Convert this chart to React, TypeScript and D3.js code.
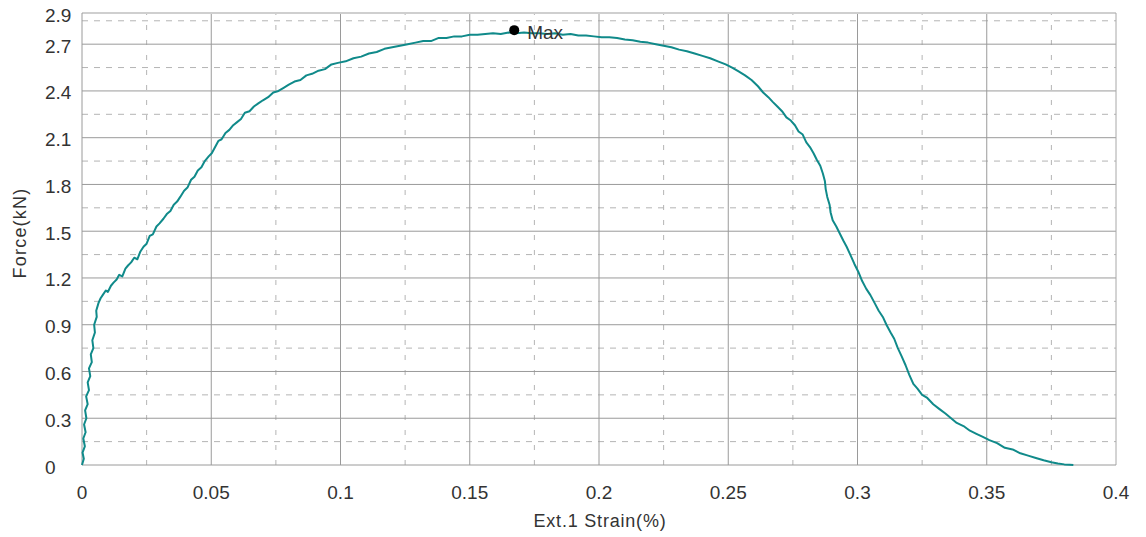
import React from 'react'
import * as d3 from 'd3'

// strain (%) and force (kN)
const strain = [
	0, 0.0007, 0.0002, 0.0011, 0.0005, 0.0014, 0.0008, 0.0017, 0.0012, 0.0022, 0.0016, 0.0027,
	0.0022, 0.0032, 0.0027, 0.0038, 0.0034, 0.0044, 0.004, 0.005, 0.0047, 0.0057, 0.0055, 0.0064,
	0.0072, 0.008, 0.0092, 0.01, 0.0112, 0.0122, 0.0134, 0.0144, 0.0156, 0.0168, 0.0178, 0.019,
	0.0202, 0.0214, 0.0226, 0.0238, 0.025, 0.0262, 0.0274, 0.0288, 0.03,
	0.0315, 0.0328, 0.0342, 0.0355, 0.0368, 0.038, 0.0395, 0.0408, 0.0422, 0.0435, 0.0448, 0.0462,
	0.0475, 0.049, 0.0502, 0.0515, 0.0528, 0.054, 0.0555, 0.057, 0.0585, 0.06, 0.0615, 0.063,
	0.0648, 0.0665, 0.0682, 0.07, 0.072, 0.074, 0.076, 0.078, 0.08, 0.0822, 0.0845, 0.0868, 0.089,
	0.0915, 0.094, 0.0965, 0.099,
	0.102, 0.105, 0.108, 0.111, 0.114, 0.117, 0.12, 0.123, 0.126, 0.129, 0.132, 0.135, 0.138,
	0.141, 0.144, 0.147, 0.15, 0.153, 0.156, 0.159, 0.162, 0.165, 0.168, 0.171, 0.174, 0.177,
	0.18, 0.183, 0.186, 0.189, 0.192, 0.195, 0.198, 0.201,
	0.204, 0.207, 0.21, 0.213, 0.216, 0.219, 0.222, 0.225, 0.228, 0.231, 0.234, 0.237, 0.24,
	0.243, 0.246, 0.249, 0.2515, 0.254, 0.2565, 0.259, 0.2615,
	0.2635, 0.2655, 0.2672, 0.269, 0.2708, 0.2725, 0.2742, 0.2758, 0.2772, 0.2788, 0.2802, 0.2816,
	0.283, 0.2842, 0.2856, 0.2866, 0.2874, 0.2877, 0.2883, 0.2892, 0.2896, 0.2904, 0.2918, 0.293,
	0.2945, 0.2958, 0.2972, 0.2988, 0.3003, 0.3018, 0.3034, 0.305, 0.3066, 0.3082, 0.3098,
	0.3112, 0.3128, 0.3142, 0.3156, 0.317, 0.3186, 0.32, 0.3216, 0.3232, 0.325, 0.327, 0.3293,
	0.3316, 0.334, 0.3362, 0.3384, 0.341, 0.3435, 0.346, 0.3485, 0.351, 0.354, 0.357, 0.36,
	0.363, 0.366, 0.369, 0.372, 0.375, 0.3775, 0.38, 0.382, 0.3835,
]
const force = [
	0, 0.04, 0.08, 0.12, 0.17, 0.21, 0.26, 0.3, 0.35, 0.39, 0.44, 0.48,
	0.53, 0.57, 0.62, 0.66, 0.71, 0.75, 0.8, 0.85, 0.9, 0.95, 0.99, 1.04,
	1.07, 1.09, 1.12, 1.11, 1.15, 1.17, 1.19, 1.22, 1.21, 1.26, 1.28, 1.3,
	1.33, 1.32, 1.37, 1.4, 1.42, 1.47, 1.48, 1.53, 1.55,
	1.58, 1.61, 1.63, 1.67, 1.69, 1.72, 1.76, 1.78, 1.83, 1.85, 1.89, 1.91,
	1.95, 1.98, 2.0, 2.04, 2.08, 2.09, 2.13, 2.15, 2.18, 2.2, 2.22, 2.26,
	2.27, 2.3, 2.32, 2.34, 2.36, 2.39, 2.4, 2.42, 2.44, 2.46, 2.47, 2.5, 2.51,
	2.53, 2.54, 2.57, 2.58,
	2.59, 2.61, 2.62, 2.64, 2.65, 2.67, 2.68, 2.69, 2.7, 2.71, 2.72, 2.72, 2.74,
	2.74, 2.75, 2.75, 2.76, 2.76, 2.765, 2.77, 2.765, 2.775, 2.77, 2.775, 2.77, 2.77,
	2.765, 2.77, 2.76, 2.765, 2.755, 2.755, 2.75, 2.745,
	2.745, 2.74, 2.73, 2.725, 2.715, 2.71, 2.7, 2.69, 2.68, 2.665, 2.655, 2.64, 2.625,
	2.61, 2.59, 2.57, 2.55, 2.525, 2.5, 2.47, 2.43,
	2.39, 2.36, 2.33, 2.3, 2.27, 2.23, 2.21, 2.18, 2.14, 2.12, 2.07, 2.04,
	2.0, 1.96, 1.92, 1.87, 1.82, 1.77, 1.72, 1.67, 1.62, 1.57, 1.53, 1.49,
	1.44, 1.4, 1.35, 1.29, 1.24, 1.18, 1.13, 1.09, 1.04, 0.99, 0.95,
	0.9, 0.85, 0.81, 0.75, 0.7, 0.64, 0.58, 0.52, 0.49, 0.45, 0.43, 0.39,
	0.36, 0.33, 0.3, 0.27, 0.25, 0.22, 0.2, 0.18, 0.16, 0.14, 0.11, 0.1,
	0.075, 0.06, 0.045, 0.03, 0.018, 0.01, 0.004, 0.002, 0,
]
const maxPoint = { strain: 0.1672, force: 2.79, label: 'Max' }

const xTicks = [0, 0.05, 0.1, 0.15, 0.2, 0.25, 0.3, 0.35, 0.4]
const xTickLabels = ['0', '0.05', '0.1', '0.15', '0.2', '0.25', '0.3', '0.35', '0.4']
const xMinorTicks = [0.025, 0.075, 0.125, 0.175, 0.225, 0.275, 0.325, 0.375]
const yTicks = [0, 0.3, 0.6, 0.9, 1.2, 1.5, 1.8, 2.1, 2.4, 2.7, 2.9]
const yTickLabels = ['0', '0.3', '0.6', '0.9', '1.2', '1.5', '1.8', '2.1', '2.4', '2.7', '2.9']
const yMinorTicks = [0.15, 0.45, 0.75, 1.05, 1.35, 1.65, 1.95, 2.25, 2.55, 2.85]

const width = 1146
const height = 537
const margin = { top: 13, right: 30, bottom: 72, left: 82 }
const font = '"Liberation Sans", Arial, sans-serif'

export default function App() {
	const x = d3.scaleLinear().domain([0, 0.4]).range([margin.left, width - margin.right])
	const y = d3.scaleLinear().domain([0, 2.9]).range([height - margin.bottom, margin.top])
	const points = strain.map((s, i) => [s, force[i]] as [number, number])
	const line = d3
		.line<[number, number]>()
		.x(d => x(d[0]))
		.y(d => y(d[1]))

	const x0 = x(0)
	const x1 = x(0.4)
	const y0 = y(0)
	const y1 = y(2.9)

	return (
		<svg
			width={width}
			height={height}
			style={{ position: 'absolute', left: 0, top: 0, background: '#fff' }}
			fontFamily={font}
		>
			{/* minor dashed grid */}
			{yMinorTicks.map(t => (
				<line key={'ym' + t} x1={x0} x2={x1} y1={y(t)} y2={y(t)} stroke="#b4b4b4" strokeDasharray="6,6" />
			))}
			{xMinorTicks.map(t => (
				<line key={'xm' + t} x1={x(t)} x2={x(t)} y1={y0} y2={y1} stroke="#b4b4b4" strokeDasharray="5,10" />
			))}
			{/* major grid */}
			{yTicks.slice(1, -1).map(t => (
				<line key={'yg' + t} x1={x0} x2={x1} y1={y(t)} y2={y(t)} stroke="#9a9a9a" />
			))}
			{xTicks.slice(1, -1).map(t => (
				<line key={'xg' + t} x1={x(t)} x2={x(t)} y1={y0} y2={y1} stroke="#9a9a9a" />
			))}
			{/* frame */}
			<line x1={x0} x2={x1} y1={y1} y2={y1} stroke="#cfcfcf" strokeWidth={2} />
			<line x1={x1} x2={x1} y1={y0} y2={y1} stroke="#a8a8a8" />
			<line x1={x0} x2={x1} y1={y0} y2={y0} stroke="#9a9a9a" />
			<line x1={x0} x2={x0} y1={y0} y2={y1} stroke="#9a9a9a" />

			<path d={line(points) || ''} fill="none" stroke="#108a8a" strokeWidth={2} strokeLinejoin="round" />

			<circle cx={x(maxPoint.strain)} cy={y(maxPoint.force)} r={5} fill="#000" />
			<text
				x={x(maxPoint.strain) + 13}
				y={y(maxPoint.force) + 2}
				dominantBaseline="central"
				fontSize={19}
				fill="#333"
			>
				{maxPoint.label}
			</text>

			{/* tick labels */}
			{yTicks.map((t, i) => (
				<text key={'yl' + t} x={45} y={y(t) + 2} dominantBaseline="central" fontSize={19} fill="#333">
					{yTickLabels[i]}
				</text>
			))}
			{xTicks.map((t, i) => (
				<text key={'xl' + t} x={x(t)} y={492} dominantBaseline="central" textAnchor="middle" fontSize={19} fill="#333">
					{xTickLabels[i]}
				</text>
			))}

			<text x={600} y={521} dominantBaseline="central" textAnchor="middle" fontSize={18} fill="#333" letterSpacing={0.8}>
				Ext.1 Strain(%)
			</text>
			<text
				transform={`translate(20, ${233}) rotate(-90)`}
				dominantBaseline="central"
				textAnchor="middle"
				fontSize={18}
				fill="#333"
				letterSpacing={1.2}
			>
				Force(kN)
			</text>
		</svg>
	)
}
